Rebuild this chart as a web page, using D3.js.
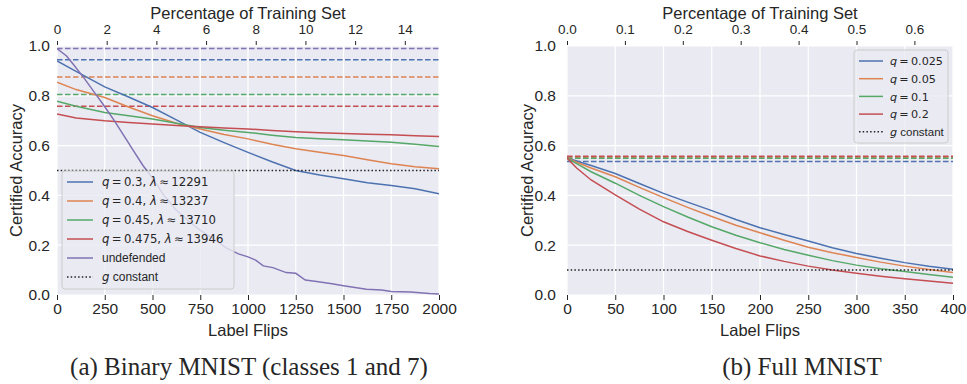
<!DOCTYPE html>
<html>
<head>
<meta charset="utf-8">
<script src="https://cdn.jsdelivr.net/npm/d3@7"></script>
<style>
body { margin: 0; background: #fff; }
svg { display: block; }
text { font-family: "Liberation Sans", Arial, sans-serif; fill: #262626; }
</style>
</head>
<body>
<svg width="967" height="384"></svg>
<script>
"use strict"

// ---- (a) binary MNIST, classes 1 and 7 ----
const flipsA = [0, 100, 250, 375, 500, 625, 750, 875, 1000, 1125, 1250, 1375, 1500, 1625, 1750, 1875, 2000]
const accA030 = [0.940, 0.898, 0.836, 0.795, 0.753, 0.703, 0.653, 0.612, 0.573, 0.535, 0.500, 0.482, 0.467, 0.451, 0.440, 0.427, 0.407]
const accA040 = [0.855, 0.825, 0.793, 0.755, 0.720, 0.690, 0.667, 0.645, 0.627, 0.605, 0.587, 0.573, 0.560, 0.543, 0.527, 0.515, 0.507]
const accA045 = [0.778, 0.758, 0.733, 0.720, 0.707, 0.690, 0.673, 0.662, 0.653, 0.642, 0.633, 0.628, 0.623, 0.618, 0.613, 0.605, 0.596]
const accA0475 = [0.727, 0.711, 0.700, 0.693, 0.687, 0.681, 0.676, 0.671, 0.667, 0.661, 0.656, 0.652, 0.649, 0.646, 0.644, 0.640, 0.637]
const flipsUndef = [0, 50, 85, 140, 190, 240, 300, 350, 400, 450, 500, 560, 625, 700, 750, 820, 890, 950, 1000, 1040, 1080, 1130, 1200, 1250, 1300, 1350, 1440, 1500, 1560, 1620, 1700, 1750, 1850, 1950, 2000]
const accUndef = [0.99, 0.96, 0.927, 0.873, 0.82, 0.767, 0.70, 0.64, 0.58, 0.52, 0.47, 0.40, 0.34, 0.29, 0.26, 0.225, 0.187, 0.165, 0.153, 0.14, 0.117, 0.11, 0.09, 0.087, 0.06, 0.055, 0.045, 0.037, 0.03, 0.023, 0.02, 0.014, 0.012, 0.006, 0.004]
const cleanA = [0.945, 0.876, 0.805, 0.758]   // clean accuracy per q (dashed)
const cleanUndefA = 0.99
const constA = 0.5
const labelsA = ["q = 0.3, λ ≈ 12291", "q = 0.4, λ ≈ 13237", "q = 0.45, λ ≈ 13710", "q = 0.475, λ ≈ 13946"]
const trainSizeA = 13007

// ---- (b) full MNIST ----
const flipsB = [0, 10, 25, 50, 75, 100, 125, 150, 175, 200, 225, 250, 275, 300, 325, 350, 375, 400]
const accB025 = [0.550, 0.538, 0.520, 0.488, 0.448, 0.408, 0.373, 0.339, 0.303, 0.270, 0.243, 0.217, 0.190, 0.167, 0.148, 0.130, 0.115, 0.103]
const accB05 = [0.550, 0.533, 0.510, 0.475, 0.432, 0.391, 0.352, 0.315, 0.280, 0.250, 0.220, 0.192, 0.170, 0.151, 0.132, 0.116, 0.102, 0.090]
const accB1 = [0.550, 0.528, 0.495, 0.449, 0.400, 0.355, 0.313, 0.274, 0.240, 0.210, 0.183, 0.160, 0.138, 0.120, 0.105, 0.094, 0.082, 0.071]
const accB2 = [0.550, 0.510, 0.462, 0.402, 0.345, 0.294, 0.255, 0.220, 0.187, 0.157, 0.135, 0.116, 0.100, 0.087, 0.075, 0.065, 0.056, 0.047]
const cleanB = [0.536, 0.553, 0.549, 0.557]
const constB = 0.1
const labelsB = ["q = 0.025", "q = 0.05", "q = 0.1", "q = 0.2"]
const trainSizeB = 60000

const yTicks = [0, 0.2, 0.4, 0.6, 0.8, 1.0]
const xTicksA = [0, 250, 500, 750, 1000, 1250, 1500, 1750, 2000]
const xTicksB = [0, 50, 100, 150, 200, 250, 300, 350, 400]
const pctTicksA = [0, 2, 4, 6, 8, 10, 12, 14]
const pctTicksB = [0, 0.1, 0.2, 0.3, 0.4, 0.5, 0.6]

const colors = ["#4C72B0", "#DD8452", "#55A868", "#C44E52", "#8172B3"]

let svg = d3.select("svg")
const plotTop = 46, plotBottom = 295

function styleAxis(sel, size) {
  sel.select(".domain").remove()
  sel.selectAll(".tick line").attr("stroke", "#262626").attr("stroke-width", 1)
  sel.selectAll(".tick text")
    .attr("fill", "#262626")
    .style("font-family", '"Liberation Sans", Arial, sans-serif')
    .style("font-size", size + "px")
}

// legend label: q and lambda in italic math font, the rest plain
function mathLabel(textSel, label, size) {
  let parts = label.split(/(q|λ|g)/)
  parts.forEach(s => {
    if (!s) return
    let t = textSel.append("tspan").text(s.replace(/ = /g, "\u2009=\u2009").replace(/ ≈ /g, "\u2009≈\u2009"))
    if (s == "q" || s == "λ" || s == "g") t.style("font-family", '"DejaVu Sans"').style("font-style", "italic").style("font-size", size + "px")
    else if (/[=≈0-9]/.test(s)) t.style("font-family", '"DejaVu Sans"').style("font-size", size + "px")
  })
}

function drawPanel(p) {
  let g = svg.append("g")
  let x = d3.scaleLinear().domain([0, p.maxFlips]).range([p.left, p.right])
  let xPct = d3.scaleLinear().domain([0, p.maxFlips / p.trainSize * 100]).range([p.left, p.right])
  let y = d3.scaleLinear().domain([0, 1]).range([plotBottom, plotTop])

  g.append("rect")
    .attr("x", p.left).attr("y", plotTop)
    .attr("width", p.right - p.left).attr("height", plotBottom - plotTop)
    .attr("fill", "#EAEAF2")

  g.append("g").selectAll("line").data(p.xTicks).join("line")
    .attr("x1", d => x(d)).attr("x2", d => x(d))
    .attr("y1", plotTop).attr("y2", plotBottom)
    .attr("stroke", "#fff").attr("stroke-width", 1.2)
  g.append("g").selectAll("line").data(yTicks).join("line")
    .attr("x1", p.left).attr("x2", p.right)
    .attr("y1", d => y(d)).attr("y2", d => y(d))
    .attr("stroke", "#fff").attr("stroke-width", 1.2)

  let bx = g.append("g").attr("transform", `translate(0,${plotBottom})`)
    .call(d3.axisBottom(x).tickValues(p.xTicks).tickSize(5).tickPadding(3).tickFormat(d3.format("d")))
  styleAxis(bx, 15.5)
  let tx = g.append("g").attr("transform", `translate(0,${plotTop - 1})`)
    .call(d3.axisTop(xPct).tickValues(p.pctTicks).tickSize(4).tickPadding(7).tickFormat(p.pctFormat))
  styleAxis(tx, 13.5)
  let ly = g.append("g").attr("transform", `translate(${p.left},0)`)
    .call(d3.axisLeft(y).tickValues(yTicks).tickSize(0).tickPadding(p.yPad).tickFormat(d3.format(".1f")))
  styleAxis(ly, 15.5)

  g.append("text").attr("x", (p.left + p.right) / 2).attr("y", 336)
    .attr("text-anchor", "middle").style("font-size", "16.5px").text("Label Flips")
  g.append("text").attr("x", (p.left + p.right) / 2).attr("y", 19)
    .attr("text-anchor", "middle").style("font-size", "16.5px").text("Percentage of Training Set")
  g.append("text").attr("transform", `translate(${p.yLabelX},${(plotTop + plotBottom) / 2}) rotate(-90)`)
    .attr("text-anchor", "middle").style("font-size", "16.5px").text("Certified Accuracy")

  let clipId = "clip" + p.id
  svg.append("clipPath").attr("id", clipId).append("rect")
    .attr("x", p.left).attr("y", plotTop - 2).attr("width", p.right - p.left).attr("height", plotBottom - plotTop + 4)
  let plot = g.append("g").attr("clip-path", `url(#${clipId})`)

  // clean accuracy reference lines
  p.clean.forEach(c => {
    plot.append("line")
      .attr("x1", p.left).attr("x2", p.right)
      .attr("y1", y(c.v)).attr("y2", y(c.v))
      .attr("stroke", c.color).attr("stroke-width", 1.5).attr("stroke-dasharray", "5.5,2.5")
  })

  let line = d3.line().x(d => x(d[0])).y(d => y(d[1]))
  p.series.forEach(s => {
    plot.append("path")
      .datum(d3.zip(s.flips, s.acc))
      .attr("d", line)
      .attr("fill", "none").attr("stroke", s.color).attr("stroke-width", 1.5)
  })

  plot.append("line")
    .attr("x1", p.left).attr("x2", p.right)
    .attr("y1", y(p.constVal)).attr("y2", y(p.constVal))
    .attr("stroke", "#222").attr("stroke-width", 1.5).attr("stroke-dasharray", "1.5,2.2")

  // legend
  let lg = g.append("g")
  lg.append("rect")
    .attr("x", p.legend.x).attr("y", p.legend.y).attr("width", p.legend.w).attr("height", p.legend.h)
    .attr("rx", 3).attr("fill", "#EAEAF2").attr("fill-opacity", 0.8)
    .attr("stroke", "#cccccc").attr("stroke-width", 1)
  p.legendItems.forEach((it, i) => {
    let ry = p.legend.row0 + i * p.legend.step
    lg.append("line")
      .attr("x1", p.legend.x + 5).attr("x2", p.legend.x + 5 + p.legend.len)
      .attr("y1", ry).attr("y2", ry)
      .attr("stroke", it.color).attr("stroke-width", 1.5)
      .attr("stroke-dasharray", it.dotted ? "1.5,2.2" : null)
    let t = lg.append("text")
      .attr("x", p.legend.x + p.legend.textOff).attr("y", ry + 4.3)
      .style("font-size", p.legend.font + "px")
    mathLabel(t, it.label, p.legend.font - 0.3)
  })

  g.append("text").attr("x", p.captionX).attr("y", 375)
    .attr("text-anchor", "middle")
    .style("font-family", '"Liberation Serif", "Times New Roman", serif')
    .style("font-size", "25px").attr("fill", "#000")
    .text(p.caption)
}

drawPanel({
  id: "A", left: 57, right: 439, maxFlips: 2000, trainSize: trainSizeA,
  xTicks: xTicksA, pctTicks: pctTicksA, pctFormat: d3.format("d"), yPad: 7, yLabelX: 22,
  clean: [{v: cleanUndefA, color: colors[4]}].concat(cleanA.map((v, i) => ({v: v, color: colors[i]}))),
  series: [
    {flips: flipsA, acc: accA030, color: colors[0]},
    {flips: flipsA, acc: accA040, color: colors[1]},
    {flips: flipsA, acc: accA045, color: colors[2]},
    {flips: flipsA, acc: accA0475, color: colors[3]},
    {flips: flipsUndef, acc: accUndef, color: colors[4]}
  ],
  constVal: constA,
  legend: {x: 62, y: 171, w: 172, h: 118, row0: 182, step: 19, len: 26, textOff: 40, font: 12},
  legendItems: labelsA.map((l, i) => ({label: l, color: colors[i]}))
    .concat([{label: "undefended", color: colors[4]}, {label: "g constant", color: "#222", dotted: true}]),
  caption: "(a) Binary MNIST (classes 1 and 7)", captionX: 249
})

drawPanel({
  id: "B", left: 567, right: 953, maxFlips: 400, trainSize: trainSizeB,
  xTicks: xTicksB, pctTicks: pctTicksB, pctFormat: d3.format(".1f"), yPad: 11, yLabelX: 533,
  clean: cleanB.map((v, i) => ({v: v, color: colors[i]})),
  series: [
    {flips: flipsB, acc: accB025, color: colors[0]},
    {flips: flipsB, acc: accB05, color: colors[1]},
    {flips: flipsB, acc: accB1, color: colors[2]},
    {flips: flipsB, acc: accB2, color: colors[3]}
  ],
  constVal: constB,
  legend: {x: 854, y: 50, w: 94, h: 93, row0: 61, step: 17.7, len: 24, textOff: 36, font: 11.5},
  legendItems: labelsB.map((l, i) => ({label: l, color: colors[i]}))
    .concat([{label: "g constant", color: "#222", dotted: true}]),
  caption: "(b) Full MNIST", captionX: 802
})
</script>
</body>
</html>
